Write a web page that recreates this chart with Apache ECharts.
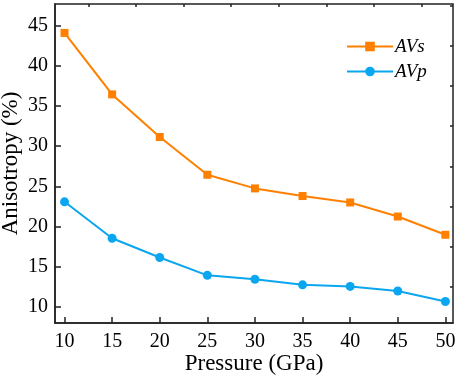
<!DOCTYPE html>
<html>
<head>
<meta charset="utf-8">
<script src="https://cdn.jsdelivr.net/npm/echarts@6/dist/echarts.min.js"></script>
<style>
  html, body { margin: 0; padding: 0; background: #fff; }
  #chart { width: 457px; height: 377px; }
</style>
</head>
<body>
<div id="chart"></div>
<script>
// Anisotropy vs pressure, two series on one grid with a closed frame.
const pressure = [10, 15, 20, 25, 30, 35, 40, 45, 50]
const avs = [44.1, 36.45, 31.15, 26.45, 24.75, 23.8, 23.0, 21.25, 18.98]
const avp = [23.08, 18.55, 16.15, 13.93, 13.45, 12.75, 12.55, 11.98, 10.68]
const xMajor = [10, 15, 20, 25, 30, 35, 40, 45, 50]
const xMinor = [12.5, 17.5, 22.5, 27.5, 32.5, 37.5, 42.5, 47.5]
const yMajor = [10, 15, 20, 25, 30, 35, 40, 45]
const yMinor = [12.5, 17.5, 22.5, 27.5, 32.5, 37.5, 42.5, 47.5]

const FONT = 'Liberation Serif'
const INK = '#222'
const ORANGE = '#ff8000'
const BLUE = '#0aa6f0'

const pair = (xs, ys) => xs.map((x, i) => [x, ys[i]])

const chart = echarts.init(document.getElementById('chart'))

const xBase = { type: 'value', min: 9, max: 50.8, splitLine: { show: false } }
const yBase = { type: 'value', min: 8, max: 47.7, splitLine: { show: false } }

chart.setOption({
  animation: false,
  backgroundColor: '#fff',
  textStyle: { fontFamily: FONT, color: '#000' },
  grid: {
    left: 55, right: 4, top: 4, bottom: 54, outerBoundsMode: 'none',
    show: true, borderColor: INK, borderWidth: 1.5, backgroundColor: 'transparent',
  },
  legend: {
    orient: 'vertical', left: 341, top: 32, itemWidth: 46, itemHeight: 12, itemGap: 6,
    textStyle: { fontFamily: FONT, fontStyle: 'italic', fontSize: 19, color: '#000', padding: [0, 0, 0, -3] },
    data: ['AVs', 'AVp'],
  },
  xAxis: [
    {
      ...xBase,
      name: 'Pressure (GPa)', nameLocation: 'middle', nameGap: 29, nameMoveOverlap: false,
      nameTextStyle: { fontFamily: FONT, fontSize: 23, color: '#000' },
      axisLine: { lineStyle: { color: INK, width: 1.5 } },
      axisTick: { inside: true, length: 6, lineStyle: { color: INK, width: 1.5 }, customValues: xMajor },
      axisLabel: { fontFamily: FONT, fontSize: 20, color: '#000', margin: 9, customValues: xMajor },
    },
    {
      ...xBase,
      axisLine: { show: false },
      axisTick: { inside: true, length: 3, lineStyle: { color: INK, width: 1.5 }, customValues: xMinor },
      axisLabel: { show: false },
    },
  ],
  yAxis: [
    {
      ...yBase,
      name: 'Anisotropy (%)', nameLocation: 'middle', nameGap: 33, nameMoveOverlap: false,
      nameTextStyle: { fontFamily: FONT, fontSize: 23, color: '#000' },
      axisLine: { lineStyle: { color: INK, width: 1.5 } },
      axisTick: { inside: true, length: 6, lineStyle: { color: INK, width: 1.5 }, customValues: yMajor },
      axisLabel: { fontFamily: FONT, fontSize: 20, color: '#000', margin: 7, customValues: yMajor },
    },
    {
      ...yBase,
      axisLine: { show: false },
      axisTick: { inside: true, length: 3, lineStyle: { color: INK, width: 1.5 }, customValues: yMinor },
      axisLabel: { show: false },
    },
  ],
  series: [
    {
      name: 'AVs', type: 'line', data: pair(pressure, avs),
      symbol: 'rect', symbolSize: 8,
      lineStyle: { color: ORANGE, width: 2 }, itemStyle: { color: ORANGE },
    },
    {
      name: 'AVp', type: 'line', data: pair(pressure, avp),
      symbol: 'circle', symbolSize: 9,
      lineStyle: { color: BLUE, width: 2 }, itemStyle: { color: BLUE },
    },
  ],
})
</script>
</body>
</html>
